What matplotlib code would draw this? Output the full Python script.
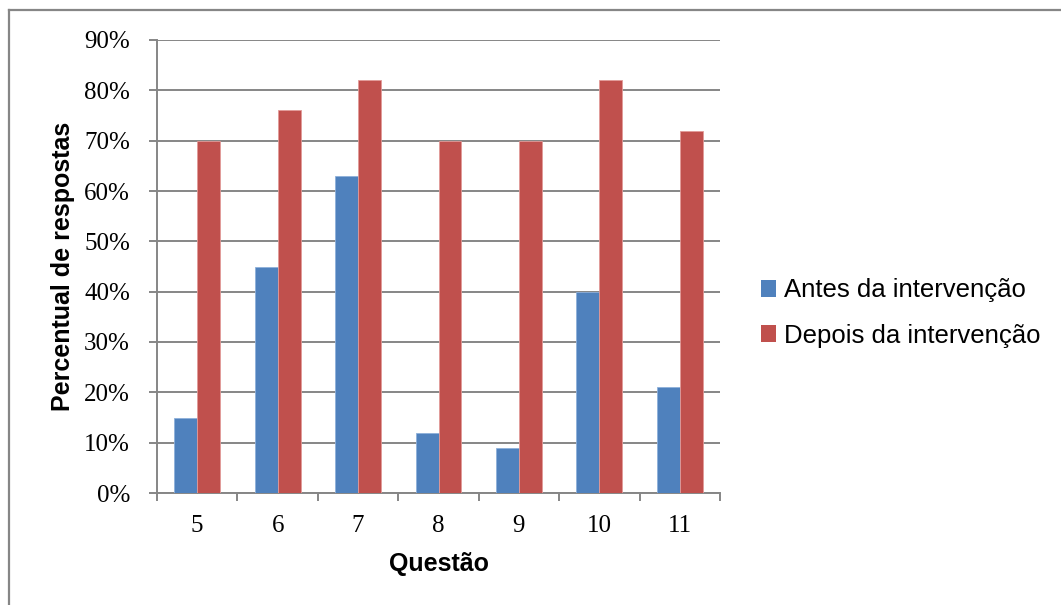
import matplotlib
matplotlib.use("Agg")
import matplotlib.pyplot as plt
import numpy as np
from matplotlib.lines import Line2D
from matplotlib.patches import Patch
from matplotlib.ticker import FixedLocator, PercentFormatter

questoes = ["5", "6", "7", "8", "9", "10", "11"]
antes = [15, 45, 63, 12, 9, 40, 21]
depois = [70, 76, 82, 70, 70, 82, 72]
series_labels = ["Antes da intervenção", "Depois da intervenção"]
yticks = [0, 10, 20, 30, 40, 50, 60, 70, 80, 90]

blue = "#4F81BD"
red = "#C0504D"
grid_gray = "#868686"

W, H = 1061, 605
fig = plt.figure(figsize=(W / 100, H / 100), dpi=100)

# chart-area frame (only the top and left edges fall inside the image)
fig.add_artist(Line2D([9 / W, 9 / W], [0, 1 - 10 / H], transform=fig.transFigure,
                      color=grid_gray, linewidth=1.6))
fig.add_artist(Line2D([9 / W, 1], [1 - 10 / H, 1 - 10 / H], transform=fig.transFigure,
                      color=grid_gray, linewidth=1.6))

ax = fig.add_axes([157 / W, 1 - 493 / H, (720 - 157) / W, (493 - 40) / H])

x = np.arange(len(questoes))
w = 1 / 3.5
ax.bar(x - w / 2, antes, width=w, color=blue, edgecolor="#8EB0DA", linewidth=0.6, zorder=3)
ax.bar(x + w / 2, depois, width=w, color=red, edgecolor="#E29A98", linewidth=0.6, zorder=3)

ax.set_xlim(-0.5, len(questoes) - 0.5)
ax.set_ylim(0, 90)

ax.yaxis.set_major_locator(FixedLocator(yticks))
ax.yaxis.set_major_formatter(PercentFormatter(decimals=0))
ax.grid(axis="y", color=grid_gray, linewidth=1.4, zorder=0)

ax.set_xticks(x)
ax.set_xticklabels(questoes)
ax.set_xticks(np.arange(-0.5, len(questoes)), minor=True)
ax.tick_params(axis="x", which="major", length=0, pad=16)
ax.tick_params(axis="x", which="minor", length=6, width=1.4, color=grid_gray, direction="out")
ax.tick_params(axis="y", length=6, width=1.4, color=grid_gray, direction="out", pad=13.5)

for lbl in ax.get_xticklabels() + ax.get_yticklabels():
    lbl.set_fontfamily("Liberation Serif")
    lbl.set_fontsize(18)

for side in ["top", "right"]:
    ax.spines[side].set_visible(False)
for side in ["left", "bottom"]:
    ax.spines[side].set_color(grid_gray)
    ax.spines[side].set_linewidth(1.4)

fig.text(63 / W, 1 - 266 / H, "Percentual de respostas", rotation=90,
         ha="center", va="center", fontfamily="Liberation Sans", fontweight="bold", fontsize=18)
fig.text(439 / W, 1 - 564 / H, "Questão",
         ha="center", va="center", fontfamily="Liberation Sans", fontweight="bold", fontsize=18)

handles = [Patch(facecolor=blue), Patch(facecolor=red)]
fig.legend(handles, series_labels, loc="center left", bbox_to_anchor=(753 / W, 1 - 313 / H),
           frameon=False, prop={"family": "Liberation Sans", "size": 18.5},
           handlelength=0.6, handleheight=0.6, handletextpad=0.3, labelspacing=0.82,
           borderaxespad=0, borderpad=0.3)

fig.savefig("out.png", dpi=100)
